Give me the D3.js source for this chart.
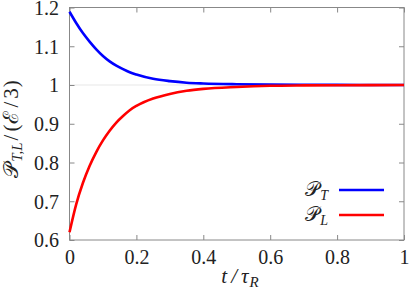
<!DOCTYPE html>
<html><head><meta charset="utf-8">
<script src="https://cdn.jsdelivr.net/npm/d3@7"></script>
<style>body{margin:0;background:#fff}svg{display:block}svg text{font-family:"Liberation Serif",serif !important}</style>
</head><body>
<script>
const tVals = [0,0.02,0.04,0.06,0.08,0.10,0.12,0.14,0.16,0.18,0.20,0.25,0.30,0.35,0.40,0.50,0.60,0.70,0.80,0.90,1.00];
const pT = [1.189,1.160,1.134,1.112,1.092,1.075,1.061,1.050,1.041,1.033,1.027,1.016,1.010,1.006,1.004,1.002,1.001,1.0005,1.0002,1.0001,1.0];
const pL = [0.620,0.692,0.747,0.791,0.827,0.857,0.882,0.903,0.920,0.935,0.946,0.965,0.977,0.985,0.990,0.995,0.998,0.999,0.9995,0.9998,1.0];
const xTicks = [0,0.2,0.4,0.6,0.8,1];
const xTickLabels = ["0","0.2","0.4","0.6","0.8","1"];
const yTicks = [0.6,0.7,0.8,0.9,1,1.1,1.2];
const yTickLabels = ["0.6","0.7","0.8","0.9","1","1.1","1.2"];

const SERIF="Liberation Serif";
const W=409,H=294, L=69.5, R=404, T=7.5, B=240;
const svg=d3.select("body").append("svg").attr("width",W).attr("height",H)
  .attr("font-family",SERIF);
const x=d3.scaleLinear().domain([0,1]).range([L,R]);
const y=d3.scaleLinear().domain([0.6,1.2]).range([B,T]);
const axCol="#888";

svg.append("line").attr("x1",x(0)).attr("x2",x(1)).attr("y1",y(1)).attr("y2",y(1))
  .attr("stroke","#bbb").attr("stroke-width",0.7).attr("stroke-dasharray","1,1");

function styleAxis(g){g.attr("font-family",SERIF).attr("font-size",20);g.select(".domain").remove();g.selectAll(".tick line").attr("stroke",axCol);}
const tl=5;
svg.append("g").attr("transform",`translate(0,${B})`)
  .call(d3.axisBottom(x).tickValues(xTicks).tickSize(-tl).tickPadding(0).tickFormat((d,i)=>xTickLabels[i]))
  .call(styleAxis).call(g=>g.selectAll("text").attr("fill","#222").attr("dy",24));
svg.append("g").attr("transform",`translate(0,${T})`)
  .call(d3.axisTop(x).tickValues(xTicks).tickSize(-tl).tickFormat(""))
  .call(styleAxis);
svg.append("g").attr("transform",`translate(${L},0)`)
  .call(d3.axisLeft(y).tickValues(yTicks).tickSize(-tl).tickPadding(10.5).tickFormat((d,i)=>yTickLabels[i]))
  .call(styleAxis).call(g=>g.selectAll("text").attr("fill","#222").attr("dy",6.8));
svg.append("g").attr("transform",`translate(${R},0)`)
  .call(d3.axisRight(y).tickValues(yTicks).tickSize(-tl).tickFormat(""))
  .call(styleAxis);
svg.append("rect").attr("x",L).attr("y",T).attr("width",R-L).attr("height",B-T)
  .attr("fill","none").attr("stroke",axCol).attr("stroke-width",1);

const line=d3.line().x(d=>x(d[0])).y(d=>y(d[1])).curve(d3.curveMonotoneX);
svg.append("path").datum(tVals.map((t,i)=>[t,pT[i]])).attr("d",line)
  .attr("fill","none").attr("stroke","#0000ff").attr("stroke-width",2.6);
svg.append("path").datum(tVals.map((t,i)=>[t,pL[i]])).attr("d",line)
  .attr("fill","none").attr("stroke","#ff0000").attr("stroke-width",2.6);

const leg=[{s:"T",c:"#0000ff",y:190},{s:"L",c:"#ff0000",y:215}];
leg.forEach(d=>{
  svg.append("line").attr("x1",339).attr("x2",384).attr("y1",d.y).attr("y2",d.y).attr("stroke",d.c).attr("stroke-width",2.6);
  const t=svg.append("text").attr("x",328).attr("y",d.y+6).attr("text-anchor","end").attr("font-size",20).attr("fill","#222");
  t.append("tspan").text("𝒫");
  t.append("tspan").text(d.s).attr("font-style","italic").attr("font-size",14).attr("dy",4).attr("dx",1);
});

const xl=svg.append("text").attr("x",240).attr("y",283).attr("text-anchor","middle").attr("font-size",21).attr("fill","#222").attr("font-style","italic");
xl.append("tspan").text("t");
xl.append("tspan").text("/").attr("dx",4);
xl.append("tspan").text("τ").attr("dx",4);
xl.append("tspan").text("R").attr("font-size",15).attr("dy",4).attr("dx",1);

const yl=svg.append("text").attr("transform","translate(18,129) rotate(-90)").attr("text-anchor","middle").attr("font-size",21).attr("fill","#222");
yl.append("tspan").text("𝒫");
yl.append("tspan").text("T,L").attr("font-style","italic").attr("font-size",15).attr("dy",4).attr("dx",1);
yl.append("tspan").text("/").attr("dy",-4).attr("dx",2);
yl.append("tspan").text("(").attr("dx",3);
yl.append("tspan").text("ℰ").attr("dx",1);
yl.append("tspan").text("/").attr("dx",3);
yl.append("tspan").text("3").attr("dx",3);
yl.append("tspan").text(")").attr("dx",1);
</script>
</body></html>
